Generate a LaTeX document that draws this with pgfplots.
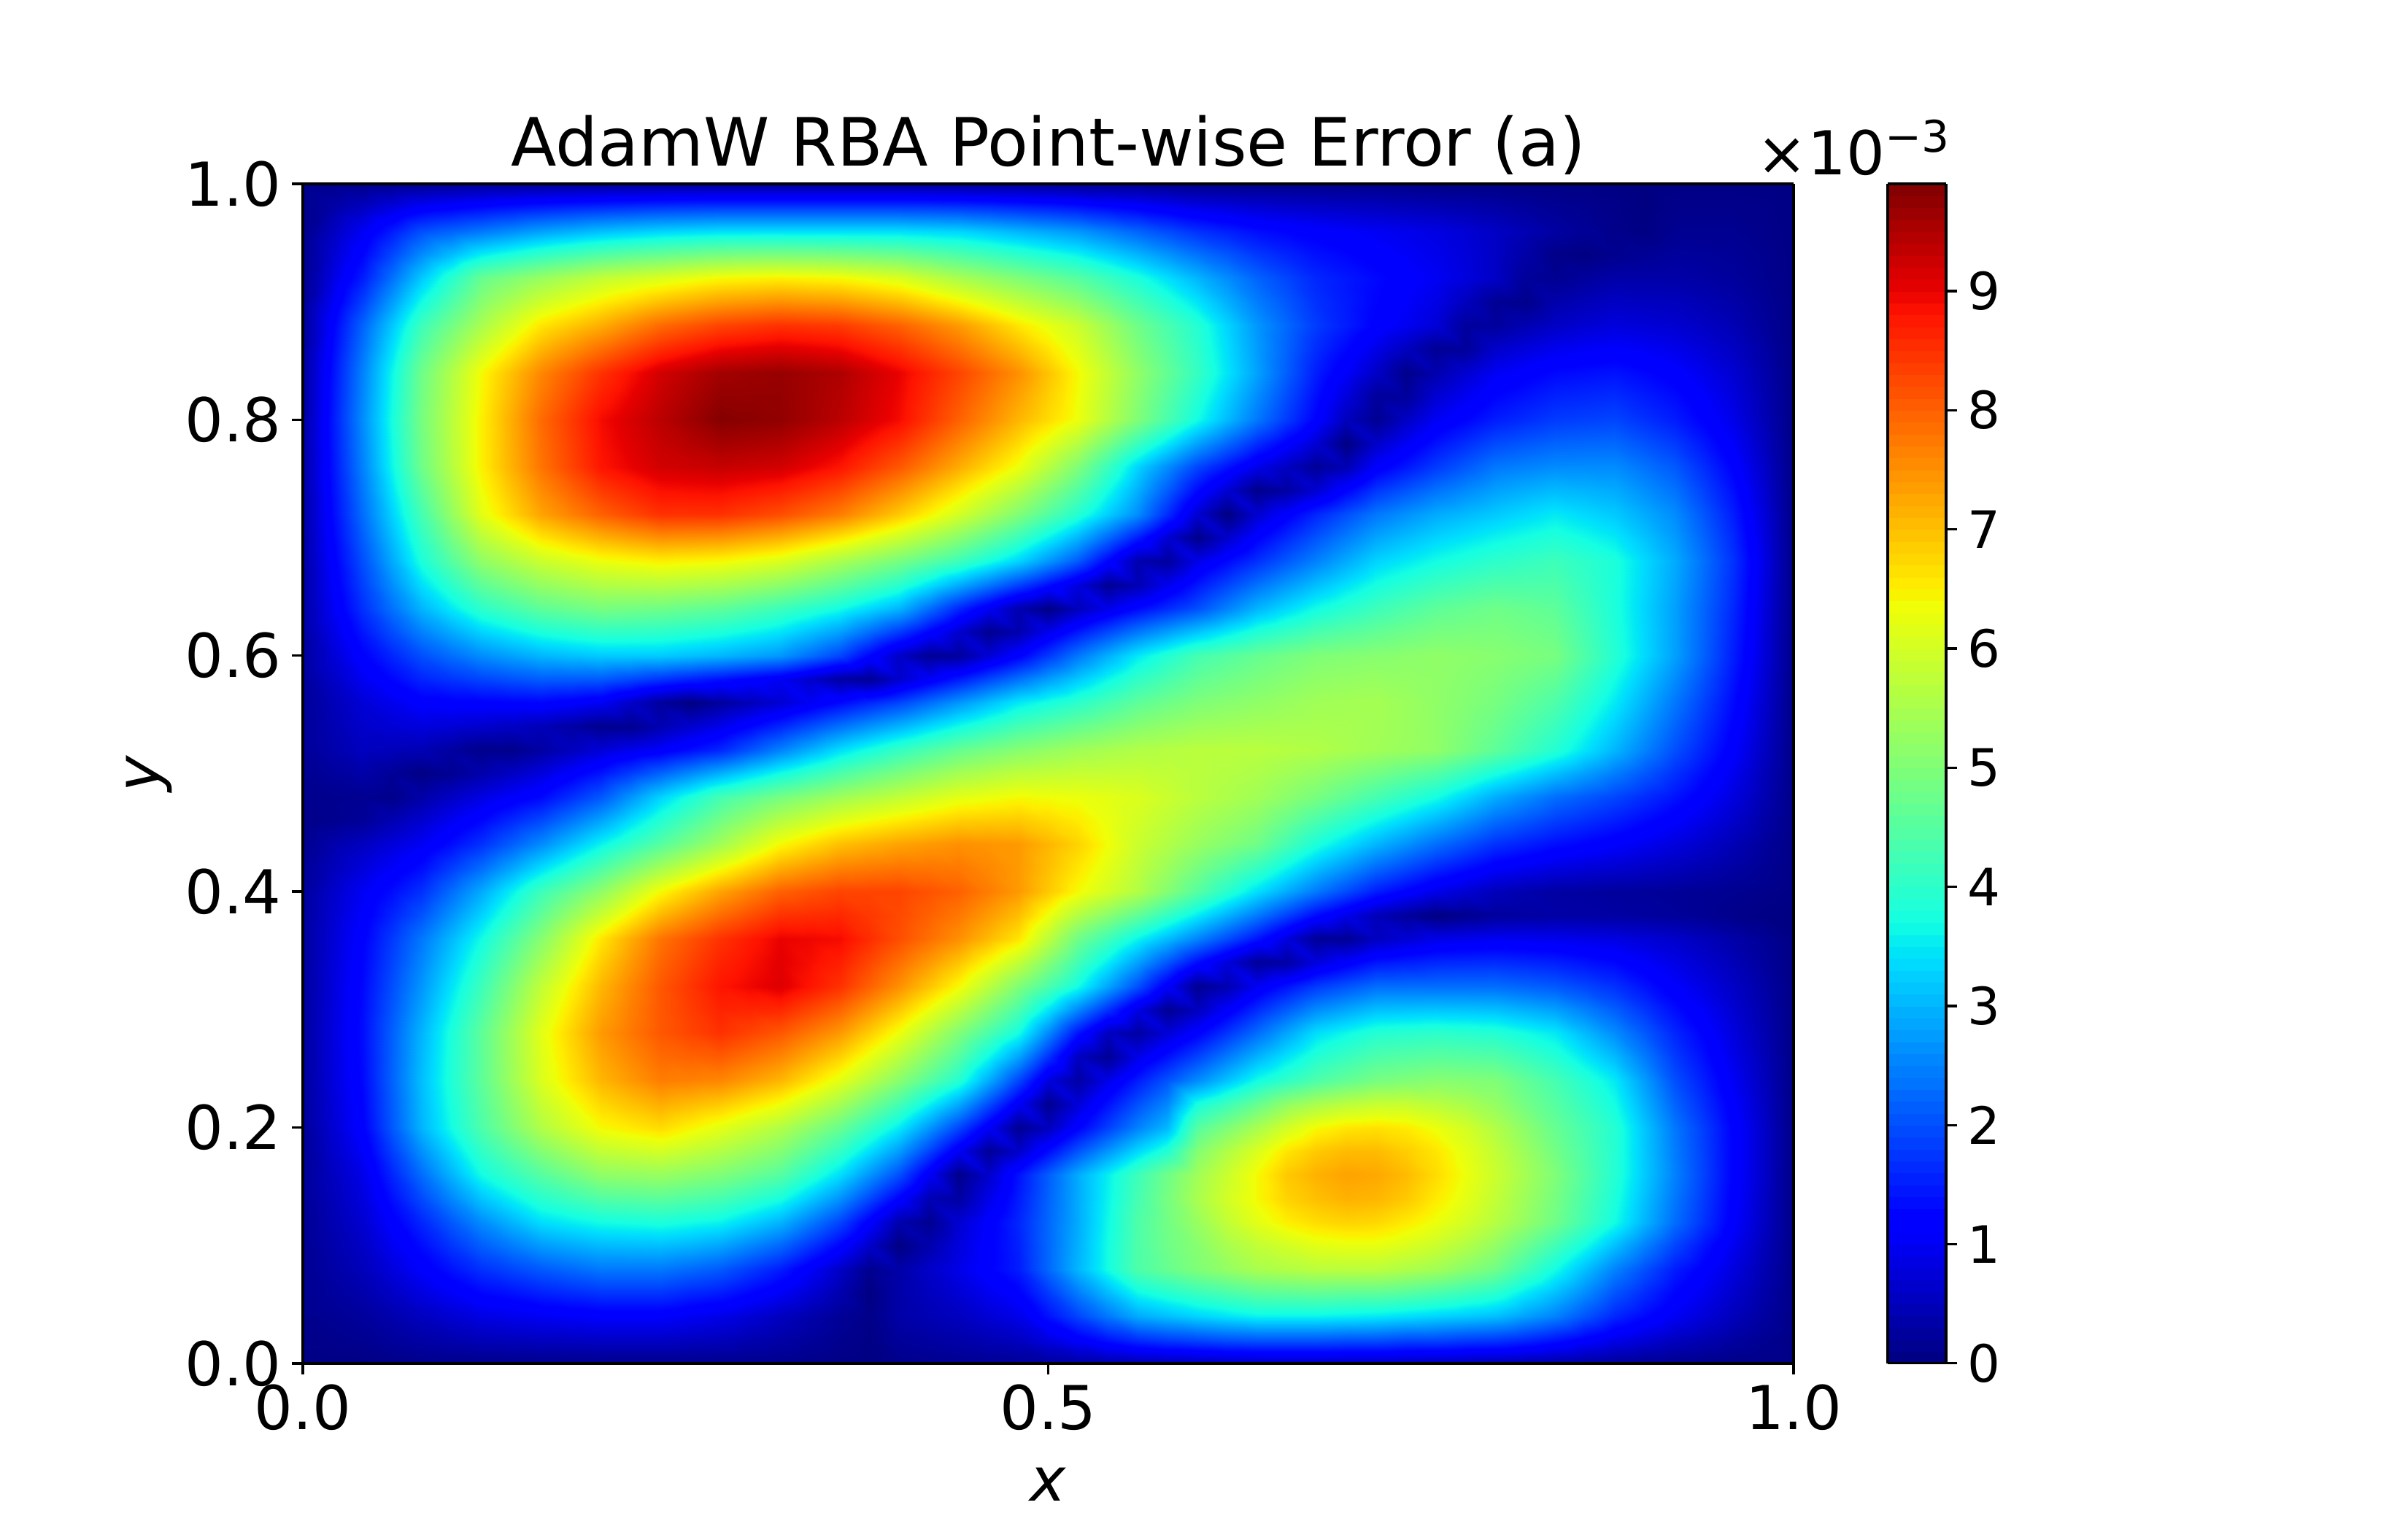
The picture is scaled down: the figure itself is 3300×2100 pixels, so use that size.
\documentclass[border=0pt]{standalone}
\usepackage{fontspec}
\setmainfont{DejaVu Sans}
\usepackage{pgfplots}
\pgfplotsset{compat=1.18}
\pgfplotsset{colormap={mpljet}{rgb(0pt)=(0,0,.5); rgb(11pt)=(0,0,1); rgb(12.5pt)=(0,0,1); rgb(34pt)=(0,.86,1); rgb(35pt)=(0,.9,.968); rgb(37.5pt)=(.08,1,.887); rgb(64pt)=(.935,1,.032); rgb(65pt)=(.968,.964,0); rgb(66pt)=(1,.925,0); rgb(89pt)=(1,.074,0); rgb(91pt)=(.91,0,0); rgb(100pt)=(.5,0,0)}}
\begin{document}
\begin{tikzpicture}[x=1in/300,y=1in/300]
\path[use as bounding box] (0,0) rectangle (3300,2100);
\begin{axis}[at={(1.38333in,0.77in)},anchor=south west,scale only axis,width=6.81in,height=5.39in,
 xmin=0,xmax=1,ymin=0,ymax=1,view={0}{90},axis on top,
 colormap name=mpljet,point meta min=0,point meta max=9.9,
 xtick={0,0.5,1},ytick={0,0.2,0.4,0.6,0.8,1},
 xticklabels={0.0,0.5,1.0},yticklabels={0.0,0.2,0.4,0.6,0.8,1.0},
 tick align=outside,tick style={black,line width=0.8pt},major tick length=3.5pt,
 axis line style={line width=0.8pt},
 xtick pos=bottom,ytick pos=left,
 tick label style={font=\fontsize{20}{24}\selectfont},
 title={AdamW RBA Point-wise Error (a)},title style={font=\fontsize{22}{26}\selectfont,yshift=-6.5pt},
 xlabel={\textit{x}},ylabel={\textit{y}},
 label style={font=\fontsize{20}{24}\selectfont},
 xlabel style={yshift=-5.5pt},ylabel shift=-2.5pt,
 colorbar,colorbar sampled,
 colorbar style={at={(1.0631,1)},anchor=north west,scale only axis,width=0.2667in,height=5.39in,samples=100,
  ytick={0,1,2,3,4,5,6,7,8,9},yticklabels={0,1,2,3,4,5,6,7,8,9},ytick pos=right,yticklabel pos=right,
  tick label style={font=\fontsize{17}{20}\selectfont},tick align=outside,major tick length=3.5pt,
  axis line style={line width=0.8pt},tick style={black,line width=0.8pt}},
]
\addplot3[surf,shader=interp,mesh/cols=51,mesh/ordering=x varies,point meta=z]
 table[row sep=\\,header=false,x expr={mod(\coordindex,51)*0.02},y expr={floor(\coordindex/51)*0.02},z index=0]{
.05\\.05\\.05\\.08\\.1\\.1\\.1\\.1\\.1\\.1\\.1\\.1\\.1\\.1\\.1\\.1\\.1\\.08\\.05\\.03\\.1\\.13\\.15\\.18\\.2\\.25\\.3\\.35\\.4\\.43\\.45\\.48\\.5\\.5\\.5\\.5\\.5\\.48\\.45\\.43\\.4\\.35\\.3\\.25\\.2\\.15\\.1\\.08\\.05\\.05\\.05\\
.08\\.11\\.15\\.24\\.33\\.4\\.48\\.51\\.55\\.57\\.6\\.6\\.6\\.55\\.5\\.41\\.33\\.23\\.13\\.05\\.23\\.29\\.35\\.45\\.55\\.83\\1.1\\1.4\\1.65\\1.8\\1.9\\2\\2.05\\2.05\\2.05\\2\\2\\1.9\\1.9\\1.8\\1.75\\1.6\\1.4\\1.15\\.9\\.73\\.55\\.41\\.28\\.16\\.05\\
.1\\.18\\.25\\.4\\.55\\.7\\.85\\.93\\1\\1.05\\1.1\\1.1\\1.1\\1\\.9\\.73\\.55\\.38\\.2\\.08\\.35\\.45\\.55\\.73\\.9\\1.4\\1.9\\2.4\\2.9\\3.1\\3.3\\3.45\\3.6\\3.6\\3.6\\3.55\\3.5\\3.4\\3.3\\3.2\\3.1\\2.8\\2.5\\2.05\\1.6\\1.3\\1\\.75\\.5\\.28\\.05\\
.13\\.25\\.38\\.6\\.83\\1.05\\1.28\\1.4\\1.55\\1.65\\1.75\\1.75\\1.75\\1.6\\1.5\\1.27\\1.03\\.72\\.4\\.03\\.35\\.54\\.73\\.97\\1.2\\1.8\\2.45\\3.05\\3.65\\3.9\\4.15\\4.35\\4.55\\4.6\\4.65\\4.6\\4.6\\4.5\\4.35\\4.15\\3.95\\3.5\\3.1\\2.6\\2.05\\1.65\\1.25\\.95\\.65\\.35\\.05\\
.15\\.33\\.5\\.8\\1.1\\1.4\\1.7\\1.9\\2.1\\2.25\\2.4\\2.4\\2.4\\2.25\\2.1\\1.8\\1.5\\1.05\\.6\\.13\\.35\\.63\\.9\\1.2\\1.5\\2.25\\3\\3.7\\4.4\\4.7\\5\\5.25\\5.5\\5.6\\5.7\\5.7\\5.7\\5.55\\5.4\\5.1\\4.8\\4.25\\3.7\\3.1\\2.5\\2\\1.5\\1.15\\.8\\.43\\.05\\
.15\\.38\\.6\\.98\\1.35\\1.75\\2.15\\2.45\\2.75\\2.9\\3.05\\3.08\\3.1\\3\\2.85\\2.55\\2.25\\1.75\\1.25\\.64\\.03\\.39\\.8\\1.18\\1.55\\2.25\\2.95\\3.7\\4.4\\4.8\\5.1\\5.5\\5.8\\6\\6.2\\6.25\\6.25\\6.1\\5.9\\5.6\\5.25\\4.75\\4.25\\3.7\\3.1\\2.5\\1.9\\1.4\\.95\\.5\\.05\\
.15\\.43\\.7\\1.15\\1.6\\2.1\\2.6\\3\\3.4\\3.55\\3.7\\3.75\\3.8\\3.7\\3.6\\3.3\\3\\2.45\\1.9\\1.15\\.4\\.15\\.7\\1.15\\1.6\\2.25\\2.9\\3.65\\4.4\\4.85\\5.3\\5.8\\6.2\\6.5\\6.7\\6.8\\6.75\\6.55\\6.3\\6\\5.65\\5.25\\4.8\\4.25\\3.7\\3\\2.3\\1.7\\1.1\\.58\\.05\\
.18\\.49\\.8\\1.38\\1.95\\2.55\\3.15\\3.55\\3.95\\4.2\\4.45\\4.5\\4.55\\4.43\\4.3\\4.03\\3.75\\3.2\\2.65\\1.93\\1.2\\.45\\.3\\.9\\1.5\\2.2\\2.9\\3.6\\4.3\\4.9\\5.5\\6\\6.4\\6.8\\7\\7.15\\7.1\\6.9\\6.55\\6.2\\5.8\\5.35\\4.9\\4.35\\3.8\\3.1\\2.4\\1.78\\1.15\\.6\\.05\\
.2\\.55\\.9\\1.6\\2.3\\3\\3.7\\4.1\\4.5\\4.85\\5.2\\5.25\\5.3\\5.15\\5\\4.75\\4.5\\3.95\\3.4\\2.7\\2\\1.05\\.1\\.65\\1.4\\2.15\\2.9\\3.55\\4.2\\4.8\\5.4\\5.9\\6.4\\6.9\\7.15\\7.3\\7.25\\7.05\\6.7\\6.3\\5.9\\5.45\\5\\4.45\\3.9\\3.2\\2.5\\1.85\\1.2\\.63\\.05\\
.2\\.63\\1.05\\1.85\\2.65\\3.35\\4.05\\4.55\\5.05\\5.43\\5.8\\5.9\\6\\5.8\\5.6\\5.33\\5.05\\4.55\\4.05\\3.4\\2.75\\1.88\\1\\.19\\.63\\1.34\\2.05\\2.7\\3.35\\3.9\\5.05\\5.6\\6.1\\6.6\\6.9\\7.05\\7.05\\6.85\\6.6\\6.2\\5.8\\5.33\\4.85\\4.38\\3.9\\3.18\\2.45\\1.83\\1.2\\.63\\.05\\
.2\\.7\\1.2\\2.1\\3\\3.7\\4.4\\5\\5.6\\6\\6.4\\6.55\\6.7\\6.45\\6.2\\5.9\\5.6\\5.15\\4.7\\4.1\\3.5\\2.7\\1.9\\1.03\\.15\\.53\\1.2\\1.85\\2.5\\3.05\\4.5\\5\\5.5\\6\\6.4\\6.6\\6.65\\6.55\\6.3\\6\\5.6\\5.15\\4.7\\4.3\\3.9\\3.15\\2.4\\1.8\\1.2\\.63\\.05\\
.23\\.74\\1.25\\2.15\\3.05\\3.78\\4.5\\5.18\\5.85\\6.3\\6.75\\6.98\\7.2\\7.05\\6.9\\6.63\\6.35\\5.9\\5.45\\4.88\\4.3\\3.6\\2.9\\1.97\\1.03\\.14\\.75\\1.38\\2\\2.55\\3.75\\4.2\\4.7\\5.2\\5.5\\5.7\\5.85\\5.85\\5.7\\5.5\\5.25\\4.85\\4.5\\4.1\\3.7\\2.95\\2.2\\1.65\\1.1\\.58\\.05\\
.25\\.78\\1.3\\2.2\\3.1\\3.85\\4.6\\5.35\\6.1\\6.6\\7.1\\7.4\\7.7\\7.65\\7.6\\7.35\\7.1\\6.65\\6.2\\5.65\\5.1\\4.5\\3.9\\2.9\\1.9\\.8\\.3\\.9\\1.5\\2.05\\2.6\\3.15\\3.7\\4.05\\4.4\\4.65\\4.9\\5\\5.1\\5.05\\5\\4.65\\4.3\\3.9\\3.5\\2.75\\2\\1.5\\1\\.53\\.05\\
.25\\.79\\1.33\\2.19\\3.05\\3.83\\4.6\\5.38\\6.15\\6.7\\7.25\\7.58\\7.9\\7.98\\8.05\\7.83\\7.6\\7.2\\6.8\\6.25\\5.7\\5.08\\4.45\\3.63\\2.8\\1.68\\.55\\.18\\.9\\1.4\\1.9\\2.45\\3\\3.45\\3.9\\4.15\\4.4\\4.48\\4.55\\4.5\\4.45\\4.18\\3.9\\3.48\\3.05\\2.43\\1.8\\1.35\\.9\\.48\\.05\\
.25\\.8\\1.35\\2.18\\3\\3.8\\4.6\\5.4\\6.2\\6.8\\7.4\\7.75\\8.1\\8.3\\8.5\\8.3\\8.1\\7.75\\7.4\\6.85\\6.3\\5.65\\5\\4.35\\3.7\\2.55\\1.4\\.55\\.3\\.75\\1.2\\1.75\\2.3\\2.85\\3.4\\3.65\\3.9\\3.95\\4\\3.95\\3.9\\3.7\\3.5\\3.05\\2.6\\2.1\\1.6\\1.2\\.8\\.43\\.05\\
.25\\.79\\1.33\\2.09\\2.85\\3.63\\4.4\\5.2\\6\\6.63\\7.25\\7.68\\8.1\\8.38\\8.65\\8.63\\8.6\\8.28\\7.95\\7.43\\6.9\\6.3\\5.7\\5.03\\4.35\\3.45\\2.55\\1.7\\.85\\.16\\.53\\1.09\\1.65\\2.13\\2.6\\2.85\\3.1\\3.13\\3.15\\3.13\\3.1\\2.95\\2.8\\2.48\\2.15\\1.75\\1.35\\1.03\\.7\\.38\\.05\\
.25\\.78\\1.3\\2\\2.7\\3.45\\4.2\\5\\5.8\\6.45\\7.1\\7.6\\8.1\\8.45\\8.8\\8.95\\9.1\\8.8\\8.5\\8\\7.5\\6.95\\6.4\\5.7\\5\\4.35\\3.7\\2.85\\2\\1.08\\.15\\.43\\1\\1.4\\1.8\\2.05\\2.3\\2.3\\2.3\\2.3\\2.3\\2.2\\2.1\\1.9\\1.7\\1.4\\1.1\\.85\\.6\\.33\\.05\\
.25\\.75\\1.25\\1.9\\2.55\\3.25\\3.95\\4.7\\5.45\\6.15\\6.85\\7.4\\7.95\\8.3\\8.65\\8.85\\9.05\\8.88\\8.7\\8.28\\7.85\\7.4\\6.95\\6.38\\5.8\\5.03\\4.25\\3.53\\2.8\\2.06\\1.33\\.77\\.2\\.3\\.8\\1.12\\1.43\\1.51\\1.6\\1.63\\1.65\\1.59\\1.53\\1.4\\1.28\\1.08\\.88\\.68\\.48\\.26\\.05\\
.25\\.73\\1.2\\1.8\\2.4\\3.05\\3.7\\4.4\\5.1\\5.85\\6.6\\7.2\\7.8\\8.15\\8.5\\8.75\\9\\8.95\\8.9\\8.55\\8.2\\7.85\\7.5\\7.05\\6.6\\5.7\\4.8\\4.2\\3.6\\3.05\\2.5\\1.95\\1.4\\.8\\.2\\.18\\.55\\.73\\.9\\.95\\1\\.98\\.95\\.9\\.85\\.75\\.65\\.5\\.35\\.2\\.05\\
.25\\.68\\1.1\\1.58\\2.05\\2.68\\3.3\\3.98\\4.65\\5.28\\5.9\\6.5\\7.1\\7.5\\7.9\\8.2\\8.5\\8.55\\8.6\\8.43\\8.25\\8\\7.75\\7.38\\7\\6.3\\5.6\\5.1\\4.6\\4.05\\3.5\\2.95\\2.4\\1.85\\1.3\\.89\\.48\\.24\\.02\\.13\\.25\\.29\\.33\\.32\\.3\\.27\\.23\\.17\\.1\\.05\\.02\\
.25\\.63\\1\\1.35\\1.7\\2.3\\2.9\\3.55\\4.2\\4.7\\5.2\\5.8\\6.4\\6.85\\7.3\\7.65\\8\\8.15\\8.3\\8.3\\8.3\\8.15\\8\\7.7\\7.4\\6.9\\6.4\\6\\5.6\\5.05\\4.5\\3.95\\3.4\\2.9\\2.4\\1.95\\1.5\\1.2\\.9\\.7\\.5\\.4\\.3\\.28\\.25\\.23\\.2\\.18\\.15\\.1\\.05\\
.23\\.5\\.78\\1.06\\1.35\\1.83\\2.3\\2.85\\3.4\\3.9\\4.4\\4.93\\5.45\\5.9\\6.35\\6.78\\7.2\\7.43\\7.65\\7.73\\7.8\\7.78\\7.75\\7.58\\7.4\\7\\6.6\\6.18\\5.75\\5.33\\4.9\\4.5\\4.1\\3.6\\3.1\\2.68\\2.25\\1.93\\1.6\\1.35\\1.1\\.97\\.83\\.75\\.68\\.59\\.5\\.4\\.3\\.18\\.05\\
.2\\.38\\.55\\.78\\1\\1.35\\1.7\\2.15\\2.6\\3.1\\3.6\\4.05\\4.5\\4.95\\5.4\\5.9\\6.4\\6.7\\7\\7.15\\7.3\\7.4\\7.5\\7.45\\7.4\\7.1\\6.8\\6.35\\5.9\\5.6\\5.3\\5.05\\4.8\\4.3\\3.8\\3.4\\3\\2.65\\2.3\\2\\1.7\\1.53\\1.35\\1.23\\1.1\\.95\\.8\\.63\\.45\\.25\\.05\\
.05\\.13\\.2\\.44\\.68\\.98\\1.28\\1.62\\1.95\\2.4\\2.85\\3.38\\3.9\\4.38\\4.85\\5.25\\5.65\\5.93\\6.2\\6.38\\6.55\\6.7\\6.85\\6.88\\6.9\\6.73\\6.55\\6.28\\6\\5.75\\5.5\\5.3\\5.1\\4.73\\4.35\\4\\3.65\\3.33\\3\\2.65\\2.3\\2.07\\1.83\\1.67\\1.5\\1.3\\1.1\\.87\\.63\\.34\\.05\\
.1\\.13\\.15\\.1\\.35\\.6\\.85\\1.08\\1.3\\1.7\\2.1\\2.7\\3.3\\3.8\\4.3\\4.6\\4.9\\5.15\\5.4\\5.6\\5.8\\6\\6.2\\6.3\\6.4\\6.35\\6.3\\6.2\\6.1\\5.9\\5.7\\5.55\\5.4\\5.15\\4.9\\4.6\\4.3\\4\\3.7\\3.3\\2.9\\2.6\\2.3\\2.1\\1.9\\1.65\\1.4\\1.1\\.8\\.43\\.05\\
.15\\.25\\.35\\.2\\.05\\.17\\.38\\.59\\.8\\1.12\\1.43\\1.82\\2.2\\2.58\\2.95\\3.33\\3.7\\4.05\\4.4\\4.68\\4.95\\5.2\\5.45\\5.6\\5.75\\5.8\\5.85\\5.85\\5.85\\5.78\\5.7\\5.63\\5.55\\5.4\\5.25\\5.05\\4.85\\4.65\\4.45\\4.1\\3.75\\3.43\\3.1\\2.78\\2.45\\2.08\\1.7\\1.33\\.95\\.5\\.05\\
.2\\.38\\.55\\.5\\.45\\.28\\.1\\.1\\.3\\.53\\.75\\.93\\1.1\\1.35\\1.6\\2.05\\2.5\\2.95\\3.4\\3.75\\4.1\\4.4\\4.7\\4.9\\5.1\\5.25\\5.4\\5.5\\5.6\\5.65\\5.7\\5.7\\5.7\\5.65\\5.6\\5.5\\5.4\\5.3\\5.2\\4.9\\4.6\\4.25\\3.9\\3.45\\3\\2.5\\2\\1.55\\1.1\\.58\\.05\\
.2\\.43\\.65\\.73\\.8\\.73\\.65\\.57\\.48\\.31\\.13\\.15\\.43\\.68\\.93\\1.27\\1.6\\1.98\\2.35\\2.68\\3\\3.35\\3.7\\4\\4.3\\4.5\\4.7\\4.9\\5.1\\5.23\\5.35\\5.4\\5.45\\5.48\\5.5\\5.47\\5.43\\5.32\\5.2\\4.98\\4.75\\4.45\\4.15\\3.7\\3.25\\2.73\\2.2\\1.7\\1.2\\.63\\.05\\
.2\\.48\\.75\\.95\\1.15\\1.18\\1.2\\1.23\\1.25\\1.13\\1\\.63\\.25\\.02\\.25\\.48\\.7\\1\\1.3\\1.6\\1.9\\2.3\\2.7\\3.1\\3.5\\3.75\\4\\4.3\\4.6\\4.8\\5\\5.1\\5.2\\5.3\\5.4\\5.43\\5.45\\5.33\\5.2\\5.05\\4.9\\4.65\\4.4\\3.95\\3.5\\2.95\\2.4\\1.85\\1.3\\.68\\.05\\
.23\\.6\\.98\\1.28\\1.58\\1.74\\1.9\\2.02\\2.13\\2.12\\2.1\\1.92\\1.73\\1.55\\1.38\\1.19\\1\\.65\\.3\\.18\\.65\\1.07\\1.48\\1.92\\2.35\\2.78\\3.2\\3.63\\4.05\\4.35\\4.65\\4.8\\4.95\\5.08\\5.2\\5.24\\5.28\\5.24\\5.2\\5.1\\5\\4.83\\4.65\\4.18\\3.7\\3.15\\2.6\\2\\1.4\\.73\\.05\\
.25\\.73\\1.2\\1.6\\2\\2.3\\2.6\\2.8\\3\\3.1\\3.2\\3.2\\3.2\\3.1\\3\\2.85\\2.7\\2.3\\1.9\\1.25\\.6\\.18\\.25\\.73\\1.2\\1.8\\2.4\\2.95\\3.5\\3.9\\4.3\\4.5\\4.7\\4.85\\5\\5.05\\5.1\\5.15\\5.2\\5.15\\5.1\\5\\4.9\\4.4\\3.9\\3.35\\2.8\\2.15\\1.5\\.78\\.05\\
.28\\.87\\1.45\\1.98\\2.5\\2.9\\3.3\\3.55\\3.8\\3.93\\4.05\\4.03\\4\\3.9\\3.8\\3.63\\3.45\\3.13\\2.8\\2.3\\1.8\\1.24\\.68\\.14\\.4\\.93\\1.45\\1.93\\2.4\\2.78\\3.15\\3.5\\3.85\\4.1\\4.35\\4.5\\4.65\\4.78\\4.9\\4.93\\4.95\\4.85\\4.75\\4.3\\3.85\\3.33\\2.8\\2.18\\1.55\\.8\\.05\\
.3\\1\\1.7\\2.35\\3\\3.5\\4\\4.3\\4.6\\4.75\\4.9\\4.85\\4.8\\4.7\\4.6\\4.4\\4.2\\3.95\\3.7\\3.35\\3\\2.3\\1.6\\1\\.4\\.05\\.5\\.9\\1.3\\1.65\\2\\2.5\\3\\3.35\\3.7\\3.95\\4.2\\4.4\\4.6\\4.7\\4.8\\4.7\\4.6\\4.2\\3.8\\3.3\\2.8\\2.2\\1.6\\.83\\.05\\
.3\\1.08\\1.85\\2.63\\3.4\\4\\4.6\\4.93\\5.25\\5.43\\5.6\\5.63\\5.65\\5.58\\5.5\\5.33\\5.15\\4.88\\4.6\\4.28\\3.95\\3.43\\2.9\\2.38\\1.85\\1.33\\.8\\.18\\.45\\.95\\1.45\\1.9\\2.35\\2.73\\3.1\\3.43\\3.75\\3.95\\4.15\\4.28\\4.4\\4.4\\4.4\\4.1\\3.8\\3.33\\2.85\\2.25\\1.65\\.85\\.05\\
.3\\1.15\\2\\2.9\\3.8\\4.5\\5.2\\5.55\\5.9\\6.1\\6.3\\6.4\\6.5\\6.45\\6.4\\6.25\\6.1\\5.8\\5.5\\5.2\\4.9\\4.55\\4.2\\3.75\\3.3\\2.7\\2.1\\1.25\\.4\\.25\\.9\\1.3\\1.7\\2.1\\2.5\\2.9\\3.3\\3.5\\3.7\\3.85\\4\\4.1\\4.2\\4\\3.8\\3.35\\2.9\\2.3\\1.7\\.88\\.05\\
.3\\1.23\\2.15\\3.1\\4.05\\4.88\\5.7\\6.15\\6.6\\6.88\\7.15\\7.33\\7.5\\7.48\\7.45\\7.3\\7.15\\6.88\\6.6\\6.25\\5.9\\5.5\\5.1\\4.63\\4.15\\3.58\\3\\2.25\\1.5\\.7\\.1\\.65\\1.2\\1.63\\2.05\\2.45\\2.85\\3.08\\3.3\\3.45\\3.6\\3.73\\3.85\\3.68\\3.5\\3.13\\2.75\\2.18\\1.6\\.83\\.05\\
.3\\1.3\\2.3\\3.3\\4.3\\5.25\\6.2\\6.75\\7.3\\7.65\\8\\8.25\\8.5\\8.5\\8.5\\8.35\\8.2\\7.95\\7.7\\7.3\\6.9\\6.45\\6\\5.5\\5\\4.45\\3.9\\3.25\\2.6\\1.65\\.7\\.02\\.7\\1.15\\1.6\\2\\2.4\\2.65\\2.9\\3.05\\3.2\\3.35\\3.5\\3.35\\3.2\\2.9\\2.6\\2.05\\1.5\\.78\\.05\\
.3\\1.35\\2.4\\3.48\\4.55\\5.45\\6.35\\6.95\\7.55\\7.98\\8.4\\8.63\\8.85\\8.88\\8.9\\8.8\\8.7\\8.48\\8.25\\7.88\\7.5\\7.05\\6.6\\6.13\\5.65\\5.05\\4.45\\3.7\\2.95\\2.13\\1.3\\.7\\.1\\.3\\.7\\1.23\\1.75\\2.05\\2.35\\2.58\\2.8\\2.93\\3.05\\2.98\\2.9\\2.63\\2.35\\1.85\\1.35\\.7\\.05\\
.3\\1.4\\2.5\\3.65\\4.8\\5.65\\6.5\\7.15\\7.8\\8.3\\8.8\\9\\9.2\\9.25\\9.3\\9.25\\9.2\\9\\8.8\\8.45\\8.1\\7.65\\7.2\\6.75\\6.3\\5.65\\5\\4.15\\3.3\\2.6\\1.9\\1.4\\.9\\.55\\.2\\.45\\1.1\\1.45\\1.8\\2.1\\2.4\\2.5\\2.6\\2.6\\2.6\\2.35\\2.1\\1.65\\1.2\\.63\\.05\\
.3\\1.43\\2.55\\3.7\\4.85\\5.68\\6.5\\7.18\\7.85\\8.35\\8.85\\9.08\\9.3\\9.44\\9.58\\9.53\\9.48\\9.29\\9.1\\8.8\\8.5\\8.05\\7.6\\7.15\\6.7\\6.18\\5.65\\4.9\\4.15\\3.48\\2.8\\2.23\\1.65\\1.18\\.7\\.03\\.63\\1.02\\1.4\\1.68\\1.95\\2.08\\2.2\\2.23\\2.25\\2.03\\1.8\\1.43\\1.05\\.55\\.05\\
.3\\1.45\\2.6\\3.75\\4.9\\5.7\\6.5\\7.2\\7.9\\8.4\\8.9\\9.15\\9.4\\9.63\\9.85\\9.8\\9.75\\9.58\\9.4\\9.15\\8.9\\8.45\\8\\7.55\\7.1\\6.7\\6.3\\5.65\\5\\4.35\\3.7\\3.05\\2.4\\1.8\\1.2\\.53\\.15\\.58\\1\\1.25\\1.5\\1.65\\1.8\\1.85\\1.9\\1.7\\1.5\\1.2\\.9\\.48\\.05\\
.28\\1.42\\2.55\\3.7\\4.85\\5.65\\6.45\\7.1\\7.75\\8.23\\8.7\\9\\9.3\\9.52\\9.73\\9.73\\9.73\\9.59\\9.45\\9.2\\8.95\\8.55\\8.15\\7.73\\7.3\\6.83\\6.35\\5.73\\5.1\\4.5\\3.9\\3.25\\2.6\\1.98\\1.35\\.79\\.23\\.23\\.7\\.98\\1.25\\1.4\\1.55\\1.6\\1.65\\1.49\\1.33\\1.07\\.8\\.43\\.05\\
.25\\1.38\\2.5\\3.65\\4.8\\5.6\\6.4\\7\\7.6\\8.05\\8.5\\8.85\\9.2\\9.4\\9.6\\9.65\\9.7\\9.6\\9.5\\9.25\\9\\8.65\\8.3\\7.9\\7.5\\6.95\\6.4\\5.8\\5.2\\4.65\\4.1\\3.45\\2.8\\2.15\\1.5\\1.05\\.6\\.1\\.4\\.7\\1\\1.15\\1.3\\1.35\\1.4\\1.28\\1.15\\.93\\.7\\.38\\.05\\
.23\\1.29\\2.35\\3.43\\4.5\\5.23\\5.95\\6.53\\7.1\\7.48\\7.85\\8.2\\8.55\\8.75\\8.95\\9.03\\9.1\\9.03\\8.95\\8.73\\8.5\\8.18\\7.85\\7.45\\7.05\\6.6\\6.15\\5.58\\5\\4.5\\4\\3.38\\2.75\\2.2\\1.65\\1.28\\.9\\.54\\.18\\.23\\.63\\.79\\.95\\1.03\\1.1\\1.02\\.93\\.75\\.58\\.32\\.05\\
.2\\1.2\\2.2\\3.2\\4.2\\4.85\\5.5\\6.05\\6.6\\6.9\\7.2\\7.55\\7.9\\8.1\\8.3\\8.4\\8.5\\8.45\\8.4\\8.2\\8\\7.7\\7.4\\7\\6.6\\6.25\\5.9\\5.35\\4.8\\4.35\\3.9\\3.3\\2.7\\2.25\\1.8\\1.5\\1.2\\.98\\.75\\.25\\.25\\.43\\.6\\.7\\.8\\.75\\.7\\.58\\.45\\.25\\.05\\
.18\\1.02\\1.85\\2.78\\3.7\\4.4\\5.1\\5.53\\5.95\\6.23\\6.5\\6.75\\7\\7.18\\7.35\\7.43\\7.5\\7.45\\7.4\\7.23\\7.05\\6.75\\6.45\\6.13\\5.8\\5.5\\5.2\\4.75\\4.3\\3.88\\3.45\\2.95\\2.45\\2.08\\1.7\\1.48\\1.25\\1.07\\.88\\.53\\.18\\.1\\.38\\.48\\.58\\.55\\.53\\.44\\.35\\.2\\.05\\
.15\\.83\\1.5\\2.35\\3.2\\3.95\\4.7\\5\\5.3\\5.55\\5.8\\5.95\\6.1\\6.25\\6.4\\6.45\\6.5\\6.45\\6.4\\6.25\\6.1\\5.8\\5.5\\5.25\\5\\4.75\\4.5\\4.15\\3.8\\3.4\\3\\2.6\\2.2\\1.9\\1.6\\1.45\\1.3\\1.15\\1\\.8\\.6\\.23\\.15\\.25\\.35\\.35\\.35\\.3\\.25\\.15\\.05\\
.13\\.69\\1.25\\1.93\\2.6\\3.08\\3.55\\3.8\\4.05\\4.25\\4.45\\4.58\\4.7\\4.8\\4.9\\4.93\\4.95\\4.93\\4.9\\4.83\\4.75\\4.58\\4.4\\4.2\\4\\3.8\\3.6\\3.3\\3\\2.68\\2.35\\2.07\\1.78\\1.58\\1.38\\1.27\\1.15\\1.04\\.93\\.77\\.6\\.34\\.08\\.03\\.13\\.19\\.25\\.23\\.2\\.13\\.05\\
.1\\.55\\1\\1.5\\2\\2.2\\2.4\\2.6\\2.8\\2.95\\3.1\\3.2\\3.3\\3.35\\3.4\\3.4\\3.4\\3.4\\3.4\\3.4\\3.4\\3.35\\3.3\\3.15\\3\\2.85\\2.7\\2.45\\2.2\\1.95\\1.7\\1.53\\1.35\\1.25\\1.15\\1.08\\1\\.93\\.85\\.73\\.6\\.45\\.3\\.2\\.1\\.03\\.15\\.15\\.15\\.1\\.05\\
.1\\.33\\.55\\.82\\1.08\\1.19\\1.3\\1.4\\1.5\\1.58\\1.65\\1.7\\1.75\\1.78\\1.8\\1.8\\1.8\\1.8\\1.8\\1.8\\1.8\\1.78\\1.75\\1.68\\1.6\\1.52\\1.43\\1.3\\1.18\\1.04\\.9\\.82\\.73\\.68\\.63\\.59\\.55\\.5\\.45\\.39\\.33\\.25\\.18\\.13\\.08\\.01\\.1\\.1\\.1\\.08\\.05\\
.1\\.1\\.1\\.13\\.15\\.18\\.2\\.2\\.2\\.2\\.2\\.2\\.2\\.2\\.2\\.2\\.2\\.2\\.2\\.2\\.2\\.2\\.2\\.2\\.2\\.18\\.15\\.15\\.15\\.13\\.1\\.1\\.1\\.1\\.1\\.1\\.1\\.08\\.05\\.05\\.05\\.05\\.05\\.05\\.05\\.02\\.05\\.05\\.05\\.05\\.05\\
};
\end{axis}
\node[anchor=base east,inner sep=0pt,font=\fontsize{20}{24}\selectfont] at (2672,1860) {×10\raisebox{7.5pt}{\fontsize{14.4}{16}\selectfont −3}};
\end{tikzpicture}
\end{document}
